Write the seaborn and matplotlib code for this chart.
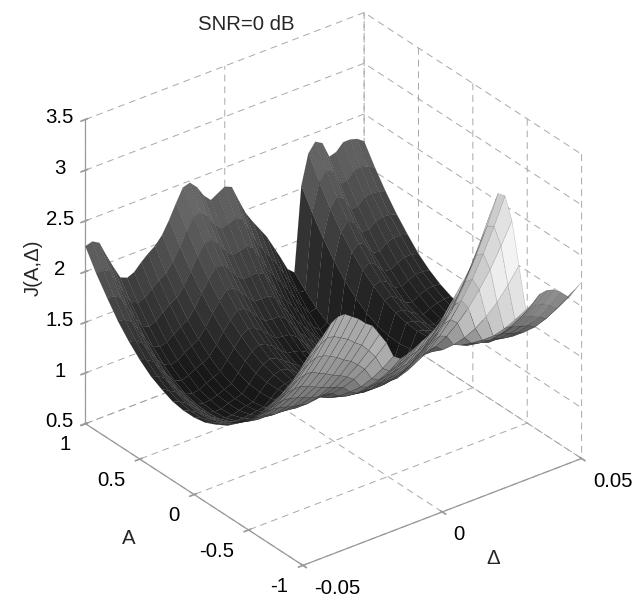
import numpy as np
import matplotlib
matplotlib.use("Agg")
import matplotlib.pyplot as plt
import seaborn as sns

# axis values of the grid
delta = [-0.05, -0.0475, -0.045, -0.0425, -0.04, -0.0375, -0.035, -0.0325, -0.03, -0.0275,
         -0.025, -0.0225, -0.02, -0.0175, -0.015, -0.0125, -0.01, -0.0075, -0.005, -0.0025, 0.0,
         0.0025, 0.005, 0.0075, 0.01, 0.0125, 0.015, 0.0175, 0.02, 0.0225,
         0.025, 0.0275, 0.03, 0.0325, 0.035, 0.0375, 0.04, 0.0425, 0.045, 0.0475, 0.05]
amp = [-1.0, -0.9, -0.8, -0.7, -0.6, -0.5, -0.4, -0.3, -0.2, -0.1, 0.0,
       0.1, 0.2, 0.3, 0.4, 0.5, 0.6, 0.7, 0.8, 0.9, 1.0]

# J(A, delta): one line per delta, A running from -1 to 1
j_by_delta = [
    [2.47, 2.25, 2.05, 1.88, 1.72, 1.59, 1.48, 1.39, 1.33, 1.28, 1.26, 1.26, 1.28, 1.33, 1.39, 1.48, 1.59, 1.72, 1.88, 2.05, 2.25],
    [2.56, 2.32, 2.10, 1.91, 1.74, 1.60, 1.48, 1.38, 1.31, 1.26, 1.23, 1.23, 1.25, 1.29, 1.36, 1.45, 1.57, 1.71, 1.87, 2.06, 2.27],
    [2.63, 2.38, 2.15, 1.94, 1.76, 1.61, 1.48, 1.37, 1.29, 1.23, 1.20, 1.19, 1.21, 1.25, 1.32, 1.41, 1.52, 1.66, 1.83, 2.02, 2.23],
    [2.70, 2.44, 2.20, 1.98, 1.79, 1.62, 1.48, 1.36, 1.27, 1.20, 1.16, 1.14, 1.15, 1.18, 1.23, 1.31, 1.42, 1.55, 1.70, 1.88, 2.08],
    [2.78, 2.50, 2.25, 2.02, 1.82, 1.64, 1.49, 1.36, 1.25, 1.17, 1.12, 1.09, 1.09, 1.11, 1.15, 1.22, 1.31, 1.43, 1.58, 1.75, 1.94],
    [2.82, 2.54, 2.28, 2.04, 1.83, 1.65, 1.49, 1.35, 1.24, 1.15, 1.09, 1.05, 1.04, 1.05, 1.08, 1.14, 1.23, 1.34, 1.47, 1.63, 1.81],
    [2.82, 2.53, 2.27, 2.04, 1.83, 1.64, 1.48, 1.34, 1.22, 1.13, 1.07, 1.03, 1.02, 1.03, 1.06, 1.12, 1.20, 1.31, 1.44, 1.60, 1.78],
    [2.77, 2.49, 2.24, 2.00, 1.80, 1.62, 1.46, 1.32, 1.22, 1.13, 1.07, 1.03, 1.02, 1.04, 1.07, 1.14, 1.22, 1.33, 1.47, 1.63, 1.81],
    [2.72, 2.45, 2.20, 1.97, 1.77, 1.60, 1.44, 1.32, 1.21, 1.13, 1.08, 1.05, 1.05, 1.06, 1.11, 1.18, 1.27, 1.38, 1.53, 1.69, 1.88],
    [2.65, 2.39, 2.15, 1.93, 1.74, 1.57, 1.43, 1.31, 1.21, 1.14, 1.09, 1.07, 1.07, 1.09, 1.14, 1.21, 1.31, 1.43, 1.58, 1.75, 1.94],
    [2.60, 2.34, 2.11, 1.90, 1.71, 1.55, 1.41, 1.30, 1.21, 1.14, 1.10, 1.08, 1.09, 1.12, 1.17, 1.25, 1.35, 1.47, 1.62, 1.79, 1.99],
    [2.49, 2.26, 2.05, 1.86, 1.69, 1.55, 1.42, 1.32, 1.25, 1.19, 1.16, 1.15, 1.16, 1.20, 1.26, 1.34, 1.44, 1.56, 1.71, 1.88, 2.07],
    [2.38, 2.17, 1.98, 1.81, 1.66, 1.53, 1.43, 1.35, 1.28, 1.24, 1.22, 1.22, 1.24, 1.29, 1.35, 1.44, 1.55, 1.68, 1.83, 2.00, 2.19],
    [2.22, 2.03, 1.86, 1.71, 1.59, 1.48, 1.39, 1.33, 1.28, 1.25, 1.25, 1.27, 1.30, 1.36, 1.44, 1.53, 1.65, 1.79, 1.95, 2.13, 2.33],
    [2.17, 1.98, 1.82, 1.68, 1.55, 1.45, 1.37, 1.31, 1.27, 1.26, 1.26, 1.29, 1.33, 1.40, 1.49, 1.60, 1.73, 1.88, 2.05, 2.25, 2.46],
    [2.19, 2.00, 1.83, 1.68, 1.55, 1.44, 1.36, 1.30, 1.26, 1.24, 1.24, 1.27, 1.31, 1.38, 1.47, 1.59, 1.72, 1.88, 2.06, 2.26, 2.48],
    [2.22, 2.02, 1.84, 1.68, 1.54, 1.43, 1.34, 1.27, 1.23, 1.20, 1.20, 1.22, 1.26, 1.33, 1.42, 1.53, 1.66, 1.81, 1.99, 2.19, 2.41],
    [2.26, 2.05, 1.86, 1.69, 1.55, 1.43, 1.33, 1.25, 1.20, 1.17, 1.16, 1.17, 1.21, 1.27, 1.35, 1.45, 1.58, 1.72, 1.89, 2.08, 2.30],
    [2.29, 2.07, 1.87, 1.70, 1.55, 1.42, 1.31, 1.23, 1.17, 1.13, 1.12, 1.13, 1.16, 1.21, 1.29, 1.39, 1.51, 1.66, 1.83, 2.02, 2.23],
    [2.34, 2.11, 1.90, 1.71, 1.56, 1.42, 1.31, 1.22, 1.15, 1.12, 1.10, 1.11, 1.14, 1.20, 1.28, 1.38, 1.51, 1.67, 1.84, 2.04, 2.27],
    [2.41, 2.16, 1.94, 1.74, 1.57, 1.43, 1.31, 1.21, 1.14, 1.10, 1.08, 1.09, 1.12, 1.18, 1.27, 1.38, 1.51, 1.67, 1.86, 2.07, 2.31],
    [2.51, 2.24, 2.00, 1.79, 1.60, 1.44, 1.31, 1.21, 1.13, 1.08, 1.05, 1.05, 1.08, 1.14, 1.22, 1.33, 1.47, 1.63, 1.82, 2.04, 2.28],
    [2.60, 2.32, 2.07, 1.85, 1.65, 1.48, 1.33, 1.21, 1.12, 1.06, 1.02, 1.01, 1.03, 1.07, 1.14, 1.24, 1.36, 1.51, 1.69, 1.89, 2.12],
    [2.70, 2.41, 2.14, 1.90, 1.69, 1.51, 1.35, 1.22, 1.12, 1.04, 0.99, 0.97, 0.97, 1.00, 1.06, 1.14, 1.26, 1.39, 1.56, 1.75, 1.97],
    [2.80, 2.49, 2.21, 1.96, 1.74, 1.54, 1.37, 1.22, 1.11, 1.02, 0.96, 0.93, 0.92, 0.94, 0.99, 1.07, 1.17, 1.30, 1.46, 1.65, 1.86],
    [2.94, 2.61, 2.31, 2.04, 1.80, 1.58, 1.39, 1.24, 1.11, 1.00, 0.93, 0.89, 0.87, 0.88, 0.92, 0.99, 1.09, 1.21, 1.37, 1.55, 1.76],
    [3.09, 2.74, 2.42, 2.12, 1.86, 1.63, 1.42, 1.25, 1.10, 0.99, 0.90, 0.84, 0.82, 0.82, 0.85, 0.91, 1.00, 1.12, 1.27, 1.45, 1.66],
    [3.28, 2.91, 2.56, 2.25, 1.97, 1.71, 1.49, 1.30, 1.14, 1.00, 0.90, 0.83, 0.79, 0.77, 0.79, 0.84, 0.92, 1.02, 1.16, 1.33, 1.53],
    [3.43, 3.04, 2.68, 2.35, 2.05, 1.79, 1.55, 1.34, 1.16, 1.02, 0.90, 0.81, 0.76, 0.73, 0.74, 0.77, 0.84, 0.93, 1.06, 1.21, 1.40],
    [3.38, 3.01, 2.67, 2.35, 2.07, 1.81, 1.58, 1.37, 1.20, 1.05, 0.93, 0.84, 0.77, 0.74, 0.73, 0.75, 0.79, 0.87, 0.97, 1.10, 1.26],
    [3.11, 2.79, 2.49, 2.22, 1.97, 1.75, 1.55, 1.38, 1.23, 1.10, 1.00, 0.92, 0.87, 0.84, 0.83, 0.84, 0.87, 0.92, 0.99, 1.09, 1.20],
    [2.64, 2.38, 2.14, 1.93, 1.74, 1.58, 1.44, 1.32, 1.23, 1.16, 1.12, 1.10, 1.11, 1.14, 1.19, 1.27, 1.37, 1.50, 1.65, 1.83, 2.03],
    [2.18, 2.01, 1.85, 1.71, 1.60, 1.50, 1.41, 1.35, 1.31, 1.28, 1.27, 1.28, 1.31, 1.36, 1.43, 1.52, 1.63, 1.76, 1.92, 2.11, 2.32],
    [2.21, 2.02, 1.85, 1.70, 1.57, 1.47, 1.38, 1.32, 1.27, 1.25, 1.25, 1.27, 1.31, 1.38, 1.46, 1.57, 1.69, 1.84, 2.01, 2.20, 2.41],
    [2.28, 2.07, 1.89, 1.73, 1.59, 1.47, 1.38, 1.31, 1.26, 1.23, 1.22, 1.24, 1.27, 1.33, 1.42, 1.52, 1.65, 1.79, 1.96, 2.16, 2.37],
    [2.29, 2.08, 1.90, 1.73, 1.59, 1.47, 1.37, 1.29, 1.23, 1.20, 1.18, 1.19, 1.22, 1.26, 1.34, 1.43, 1.54, 1.68, 1.83, 2.01, 2.21],
    [2.27, 2.06, 1.87, 1.70, 1.56, 1.44, 1.33, 1.26, 1.20, 1.16, 1.15, 1.16, 1.19, 1.24, 1.32, 1.42, 1.53, 1.68, 1.84, 2.02, 2.23],
    [2.22, 2.02, 1.84, 1.68, 1.54, 1.42, 1.33, 1.26, 1.21, 1.18, 1.17, 1.19, 1.22, 1.28, 1.36, 1.46, 1.59, 1.73, 1.90, 2.09, 2.30],
    [2.15, 1.96, 1.79, 1.64, 1.52, 1.41, 1.33, 1.26, 1.22, 1.19, 1.19, 1.21, 1.25, 1.31, 1.39, 1.49, 1.61, 1.75, 1.91, 2.10, 2.30],
    [2.19, 2.00, 1.83, 1.68, 1.56, 1.44, 1.36, 1.29, 1.24, 1.22, 1.21, 1.22, 1.26, 1.32, 1.39, 1.49, 1.61, 1.74, 1.90, 2.08, 2.28],
    [2.24, 2.04, 1.87, 1.72, 1.59, 1.47, 1.38, 1.31, 1.26, 1.23, 1.22, 1.23, 1.26, 1.31, 1.38, 1.47, 1.59, 1.72, 1.87, 2.04, 2.23],
]

delta_ticks = [-0.05, 0, 0.05]
delta_labels = ["-0.05", "0", "0.05"]
amp_ticks = [-1, -0.5, 0, 0.5, 1]
amp_labels = ["-1", "-0.5", "0", "0.5", "1"]
j_ticks = [0.5, 1, 1.5, 2, 2.5, 3, 3.5]
j_labels = ["0.5", "1", "1.5", "2", "2.5", "3", "3.5"]

sns.set_theme(style="white", rc={
    "axes.grid": True,
    "grid.color": "#a8a8a8",
    "grid.linestyle": (0, (7, 5)),
    "grid.linewidth": 0.7,
    "xtick.color": "black",
    "ytick.color": "black",
    "axes.unicode_minus": False,
})
plt.rcParams["font.family"] = ["Liberation Sans", "DejaVu Sans"]

X, Y = np.meshgrid(delta, amp)
Z = np.array(j_by_delta).T

# shading: the side facing the viewer darkens towards the valley with height,
# the side turned towards +A / +delta brightens with steepness
dh_dw, dh_du = np.gradient(Z / 3, 0.05, 0.025)
length = np.sqrt(dh_du ** 2 + dh_dw ** 2 + 1)
n_u, n_w, n_z = -dh_du / length, -dh_dw / length, 1 / length
lit = np.clip(0.2 + 1.6 * (n_w + 0.5 * n_u), 0, 1)
dark_side = 0.09 + 0.33 * np.clip((Z - 1.15) / 1.2, 0, 1)
lit_side = 0.1 + 1.05 * (1 - n_z)
shade = (1 - lit) * dark_side + lit * lit_side
shade = (shade[:-1, :-1] + shade[1:, :-1] + shade[:-1, 1:] + shade[1:, 1:]) / 4
gray = sns.color_palette("gray", as_cmap=True)

fig = plt.figure(figsize=(6.33, 5.94), dpi=100)
ax = fig.add_axes([0.0284, 0, 0.9716, 1], projection="3d", proj_type="ortho")
ax.view_init(elev=30, azim=-127.5)
ax.set_box_aspect((352, 358, 352))

ax.plot_surface(X, Y, Z, rstride=1, cstride=1, facecolors=gray(np.clip(shade, 0.08, 0.95)),
                shade=False, edgecolor=(0, 0, 0, 0.25), linewidth=0.3)

ax.set_xlim(-0.05, 0.05, view_margin=0)
ax.set_ylim(-1, 1, view_margin=0)
ax.set_zlim(0.5, 3.5, view_margin=0)
ax.set_xticks(delta_ticks, delta_labels, fontsize=14.7, ha="left", va="center")
ax.set_yticks(amp_ticks, amp_labels, fontsize=14.7, ha="right", va="center")
ax.set_zticks(j_ticks, j_labels, fontsize=14.7, ha="center", va="center")

for axis in (ax.xaxis, ax.yaxis, ax.zaxis):
    axis.set_pane_color((1, 1, 1, 0))
    axis.pane.set_edgecolor((1, 1, 1, 0))
    axis.line.set_color("#9a9a9a")
    axis.line.set_linewidth(0.9)
ax.tick_params(color="#9a9a9a", width=0.6)

fig.text(246 / 633, 1 - 25 / 594, "SNR=0 dB", ha="center", va="center", fontsize=14.7)
fig.text(33 / 633, 1 - 268 / 594, "J(A,Δ)", ha="center", va="center", rotation=90, fontsize=14.7)
fig.text(129 / 633, 1 - 539 / 594, "A", ha="center", va="center", fontsize=14.7)
fig.text(493 / 633, 1 - 558 / 594, "Δ", ha="center", va="center", fontsize=14.7)

fig.savefig("out.png", dpi=100)
